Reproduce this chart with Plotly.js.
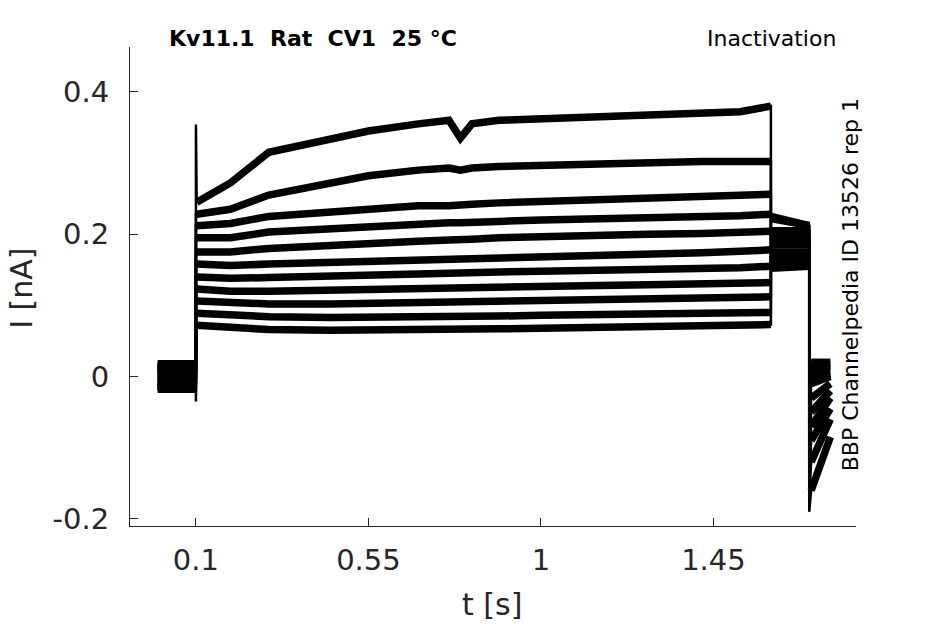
<!DOCTYPE html>
<html>
<head>
<meta charset="utf-8">
<script src="https://cdn.plot.ly/plotly-3.0.1.min.js"></script>
<style>html,body{margin:0;padding:0;background:#fff;}#chart{width:945px;height:624px;}</style>
</head>
<body>
<div id="chart"></div>
<script>
const tPts = [0, 0.1, 0.1, 0.102, 0.19, 0.29, 0.45, 0.55, 0.68, 0.76, 0.79, 0.82, 0.89, 1.0, 1.15, 1.28, 1.42, 1.52, 1.6, 1.6, 1.7, 1.7, 1.705, 1.755];

// Current (nA) for each sweep at tPts
const sweep1  = [0.018, 0.018, 0.354, 0.245, 0.272, 0.315, 0.335, 0.345, 0.355, 0.360, 0.335, 0.355, 0.360, 0.362, 0.365, 0.368, 0.370, 0.372, 0.380, 0.205, 0.205, -0.190, -0.160, -0.085];
const sweep2  = [-0.012, -0.012, 0.228, 0.228, 0.235, 0.255, 0.270, 0.282, 0.290, 0.293, 0.290, 0.293, 0.295, 0.297, 0.298, 0.300, 0.302, 0.302, 0.302, 0.190, 0.190, -0.170, -0.120, -0.060];
const sweep3  = [0.010, 0.010, 0.212, 0.212, 0.215, 0.225, 0.232, 0.236, 0.240, 0.240, 0.240, 0.242, 0.244, 0.246, 0.248, 0.250, 0.252, 0.254, 0.256, 0.222, 0.212, -0.150, -0.090, -0.045];
const sweep4  = [-0.018, -0.018, 0.195, 0.195, 0.195, 0.203, 0.208, 0.212, 0.215, 0.216, 0.216, 0.217, 0.218, 0.220, 0.221, 0.223, 0.225, 0.226, 0.228, 0.175, 0.175, -0.130, -0.070, -0.030];
const sweep5  = [0.005, 0.005, 0.175, 0.175, 0.175, 0.180, 0.185, 0.188, 0.190, 0.192, 0.192, 0.193, 0.195, 0.197, 0.198, 0.200, 0.201, 0.202, 0.204, 0.198, 0.195, -0.120, -0.050, -0.020];
const sweep6  = [0.000, 0.000, 0.158, 0.158, 0.156, 0.158, 0.160, 0.162, 0.164, 0.165, 0.165, 0.166, 0.167, 0.168, 0.170, 0.172, 0.174, 0.176, 0.178, 0.160, 0.160, -0.100, -0.030, -0.010];
const sweep7  = [-0.008, -0.008, 0.140, 0.140, 0.138, 0.139, 0.140, 0.142, 0.144, 0.145, 0.145, 0.146, 0.147, 0.148, 0.149, 0.150, 0.152, 0.153, 0.155, 0.200, 0.200, -0.090, -0.010, 0.000];
const sweep8  = [0.014, 0.014, 0.123, 0.123, 0.120, 0.120, 0.121, 0.122, 0.124, 0.125, 0.125, 0.125, 0.126, 0.127, 0.128, 0.129, 0.130, 0.131, 0.132, 0.185, 0.185, -0.080, 0.000, 0.005];
const sweep9  = [-0.004, -0.004, 0.106, 0.106, 0.103, 0.102, 0.102, 0.103, 0.104, 0.105, 0.105, 0.105, 0.106, 0.107, 0.108, 0.109, 0.110, 0.111, 0.112, 0.168, 0.168, -0.070, 0.010, 0.010];
const sweep10 = [0.008, 0.008, 0.089, 0.089, 0.086, 0.084, 0.083, 0.083, 0.084, 0.084, 0.084, 0.085, 0.085, 0.086, 0.087, 0.088, 0.089, 0.090, 0.090, 0.225, 0.212, -0.060, 0.015, 0.015];
const sweep11 = [-0.015, -0.015, -0.035, 0.072, 0.068, 0.066, 0.065, 0.065, 0.066, 0.066, 0.066, 0.066, 0.067, 0.068, 0.069, 0.070, 0.071, 0.072, 0.073, 0.152, 0.155, -0.050, 0.020, 0.020];

const sweeps = [sweep1, sweep2, sweep3, sweep4, sweep5, sweep6, sweep7, sweep8, sweep9, sweep10, sweep11];

const xTickVals = [0.1, 0.55, 1, 1.45];
const xTickText = ["0.1", "0.55", "1", "1.45"];
const yTickVals = [-0.2, 0, 0.2, 0.4];
const yTickText = ["-0.2", "0", "0.2", "0.4"];

const titleText = "Kv11.1  Rat  CV1  25 °C";
const protocolText = "Inactivation";
const sourceText = "BBP Channelpedia ID 13526 rep 1";
const xLabel = "t [s]";
const yLabel = "I [nA]";

// Thick segments (noisy bands) break at each voltage step; a thin path draws the step transitions.
const thinOnly = [2, 21]; // onset spike and tail minimum are drawn by the thin path only
function banded(vals) {
  const xs = [], ys = [];
  for (let i = 0; i < tPts.length; i++) {
    if (i > 0 && tPts[i] === tPts[i - 1]) { xs.push(null); ys.push(null); }
    if (thinOnly.indexOf(i) >= 0) continue;
    xs.push(tPts[i]); ys.push(vals[i]);
  }
  return {xs: xs, ys: ys};
}

const traces = [];
sweeps.forEach(function (vals) {
  traces.push({
    x: tPts, y: vals, type: "scatter", mode: "lines",
    line: {color: "#000000", width: 2.5},
    hoverinfo: "skip", showlegend: false
  });
  const b = banded(vals);
  traces.push({
    x: b.xs, y: b.ys, type: "scatter", mode: "lines", connectgaps: false,
    line: {color: "#000000", width: 7.5},
    hoverinfo: "skip", showlegend: false
  });
});

const textColor = "#262626";
const font = "DejaVu Sans, Liberation Sans, sans-serif";

const layout = {
  width: 945, height: 624,
  margin: {l: 130, r: 89, t: 47, b: 98, pad: 0},
  paper_bgcolor: "#ffffff", plot_bgcolor: "#ffffff",
  showlegend: false,
  font: {family: font, color: textColor},
  xaxis: {
    range: [-0.072, 1.822], showgrid: false, zeroline: false,
    showline: true, linecolor: textColor, linewidth: 1, mirror: false,
    ticks: "inside", ticklen: 8, tickwidth: 1, tickcolor: textColor,
    tickvals: xTickVals, ticktext: xTickText,
    tickfont: {family: font, size: 29, color: textColor},
    ticklabelstandoff: 8
  },
  yaxis: {
    range: [-0.21, 0.463], showgrid: false, zeroline: false,
    showline: true, linecolor: textColor, linewidth: 1, mirror: false,
    ticks: "inside", ticklen: 8, tickwidth: 1, tickcolor: textColor,
    tickvals: yTickVals, ticktext: yTickText,
    tickfont: {family: font, size: 29, color: textColor},
    ticklabelstandoff: 14
  },
  annotations: [
    {text: "<b>" + titleText + "</b>", xref: "paper", yref: "paper", x: 0.252, y: 1.017,
     xanchor: "center", yanchor: "middle", showarrow: false,
     font: {family: font, size: 22, color: "#000000"}},
    {text: protocolText, xref: "paper", yref: "paper", x: 0.975, y: 1.017,
     xanchor: "right", yanchor: "middle", showarrow: false,
     font: {family: font, size: 22, color: "#000000"}},
    {text: sourceText, xref: "paper", yref: "paper", x: 0.992, y: 0.503,
     xanchor: "center", yanchor: "middle", textangle: -90, showarrow: false,
     font: {family: font, size: 22, color: "#000000"}},
    {text: xLabel, xref: "paper", yref: "paper", x: 0.4986, y: -0.163,
     xanchor: "center", yanchor: "middle", showarrow: false,
     font: {family: font, size: 30, color: textColor}},
    {text: yLabel, xref: "paper", yref: "paper", x: -0.149, y: 0.497,
     xanchor: "center", yanchor: "middle", textangle: -90, showarrow: false,
     font: {family: font, size: 30, color: textColor}}
  ]
};

Plotly.newPlot("chart", traces, layout, {staticPlot: true, displayModeBar: false});
</script>
</body>
</html>
